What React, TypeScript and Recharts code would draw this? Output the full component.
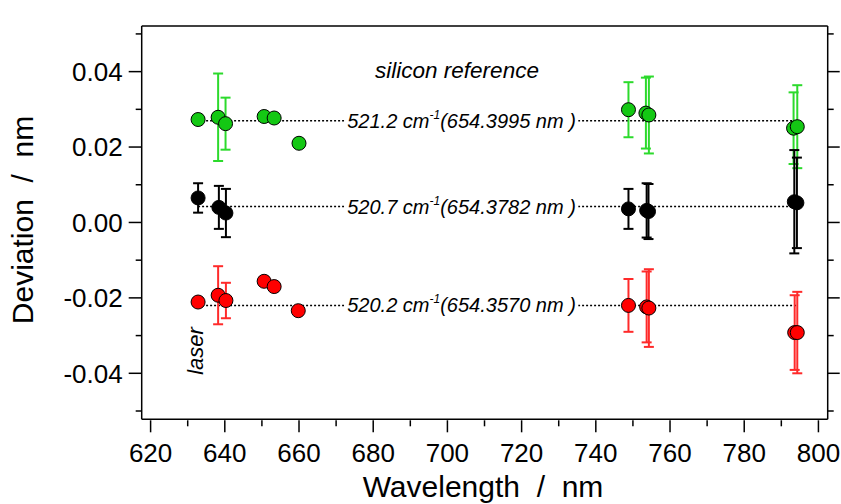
import React from 'react';
import { ScatterChart, Scatter, XAxis, YAxis, ErrorBar, ReferenceLine } from 'recharts';

// wavelength (nm), deviation (nm), error (nm) per series
const greenWl = [632.8, 638.2, 640.2, 650.6, 653.3, 660.0, 748.8, 753.5, 754.3, 793.3, 794.3];
const greenDev = [0.0273, 0.0279, 0.0262, 0.0281, 0.0277, 0.021, 0.0299, 0.029, 0.0285, 0.025, 0.0254];
const greenErr = [0.0012, 0.0116, 0.0069, 0, 0, 0, 0.0073, 0.0094, 0.0102, 0.0095, 0.011];

const blackWl = [632.8, 638.4, 640.3, 748.8, 753.7, 754.2, 793.5, 794.2];
const blackDev = [0.0065, 0.004, 0.0025, 0.0036, 0.0032, 0.0029, 0.0055, 0.0052];
const blackErr = [0.0039, 0.0057, 0.0064, 0.0053, 0.0072, 0.0073, 0.0137, 0.012];

const redWl = [632.8, 638.2, 640.3, 650.6, 653.3, 659.8, 748.8, 753.7, 754.3, 793.6, 794.3];
const redDev = [-0.0211, -0.0193, -0.0207, -0.0156, -0.017, -0.0234, -0.022, -0.0224, -0.0227, -0.0292, -0.0292];
const redErr = [0.001, 0.0077, 0.0047, 0, 0, 0, 0.007, 0.0094, 0.0103, 0.0099, 0.0108];

// silicon reference lines
const refDev = [0.027, 0.0042, -0.022];
const refCm = ['521.2', '520.7', '520.2'];
const refNm = ['654.3995', '654.3782', '654.3570'];
const refFrom = 632.8;
const refTo = 794;
const refLabelAt = 673;

const xTicks = [620, 630, 640, 650, 660, 670, 680, 690, 700, 710, 720, 730, 740, 750, 760, 770, 780, 790, 800];
const yTicks = [-0.05, -0.04, -0.03, -0.02, -0.01, 0, 0.01, 0.02, 0.03, 0.04, 0.05];

const xDomain = [617.6, 802.5];
const yDomain = [-0.0522, 0.0521];

const FONT = '"Liberation Sans", Arial, sans-serif';

const toPoints = (wl: number[], dev: number[], err: number[]) =>
  wl.map((w, i) => ({ x: w, y: dev[i], err: err[i] }));

const greenData = toPoints(greenWl, greenDev, greenErr);
const blackData = toPoints(blackWl, blackDev, blackErr);
const redData = toPoints(redWl, redDev, redErr);

const majorX = (v: number) => Math.round(v) % 20 === 0;
const majorY = (v: number) => Math.round(v * 100) % 2 === 0;

const BottomTick = ({ x, y, payload }: any) => {
  const major = majorX(payload.value);
  return (
    <g>
      <line x1={x} y1={y + 1} x2={x} y2={y + 1 + (major ? 12 : 6)} stroke="#000" strokeWidth={1.5} />
      {major && (
        <text x={x} y={y + 42.5} textAnchor="middle" fontSize={26} fontFamily={FONT} fill="#000">
          {payload.value}
        </text>
      )}
    </g>
  );
};

const TopTick = ({ x, y, payload }: any) => (
  <line x1={x} y1={y} x2={x} y2={y - (majorX(payload.value) ? 12 : 6)} stroke="#000" strokeWidth={1.5} />
);

const LeftTick = ({ x, y, payload }: any) => {
  const major = majorY(payload.value);
  return (
    <g>
      <line x1={x} y1={y} x2={x - (major ? 13 : 6)} y2={y} stroke="#000" strokeWidth={1.5} />
      {major && (
        <text x={x - 19} y={y + 9.3} textAnchor="end" fontSize={26} fontFamily={FONT} fill="#000">
          {payload.value.toFixed(2)}
        </text>
      )}
    </g>
  );
};

const RightTick = ({ x, y, payload }: any) => (
  <line x1={x} y1={y} x2={x + (majorY(payload.value) ? 12 : 6)} y2={y} stroke="#000" strokeWidth={1.5} />
);

const dot = (fill: string) => (p: any) => (
  <circle cx={p.cx} cy={p.cy} r={7} fill={fill} stroke="#000" strokeWidth={1} />
);

const refLabel = (i: number) => (props: any) => {
  const vb = props.viewBox;
  const px = vb.x + ((refLabelAt - refFrom) / (refTo - refFrom)) * vb.width;
  const cy = vb.y + (vb.height || 0) / 2;
  return (
    <g>
      <rect x={px - 3} y={cy - 12} width={234} height={24} fill="#fff" />
      <text x={px} y={cy + 7} fontSize={20} fontStyle="italic" fontFamily={FONT} fill="#000">
        <tspan>{refCm[i]} cm</tspan>
        <tspan dy={-9} fontSize={12}>-1</tspan>
        <tspan dy={9}>({refNm[i]} nm )</tspan>
      </text>
    </g>
  );
};

export default function App() {
  const axisLine = { stroke: '#000', strokeWidth: 1.5 };
  return (
    <div style={{ position: 'absolute', left: 0, top: 0, width: 841, height: 504, background: '#fff' }}>
      <ScatterChart width={841} height={504} margin={{ top: 6, right: 0, bottom: 44.7, left: 81.7 }}>
        <XAxis
          type="number"
          dataKey="x"
          domain={xDomain}
          allowDataOverflow
          ticks={xTicks}
          interval={0}
          tickSize={0}
          tickMargin={0}
          tickLine={false}
          axisLine={axisLine}
          tick={<BottomTick />}
          height={40}
        />
        <XAxis
          xAxisId="top"
          orientation="top"
          type="number"
          domain={xDomain}
          allowDataOverflow
          ticks={xTicks}
          interval={0}
          tickSize={0}
          tickMargin={0}
          tickLine={false}
          axisLine={axisLine}
          tick={<TopTick />}
          height={20}
        />
        <YAxis
          type="number"
          dataKey="y"
          domain={yDomain}
          allowDataOverflow
          ticks={yTicks}
          interval={0}
          tickSize={0}
          tickMargin={0}
          tickLine={false}
          axisLine={axisLine}
          tick={<LeftTick />}
          width={60}
        />
        <YAxis
          yAxisId="right"
          orientation="right"
          type="number"
          domain={yDomain}
          allowDataOverflow
          ticks={yTicks}
          interval={0}
          tickSize={0}
          tickMargin={0}
          tickLine={false}
          axisLine={axisLine}
          tick={<RightTick />}
          width={13.3}
        />
        {refDev.map((v, i) => (
          <ReferenceLine
            key={i}
            segment={[{ x: refFrom, y: v }, { x: refTo, y: v }]}
            stroke="#000"
            strokeWidth={1.5}
            strokeDasharray="2 2"
            label={refLabel(i)}
          />
        ))}
        <Scatter data={greenData} isAnimationActive={false} shape={dot('#14C814')}>
          <ErrorBar dataKey="err" direction="y" width={5} stroke="#2CDA2C" strokeWidth={2} isAnimationActive={false} />
        </Scatter>
        <Scatter data={blackData} isAnimationActive={false} shape={dot('#000')}>
          <ErrorBar dataKey="err" direction="y" width={5} stroke="#000" strokeWidth={2} isAnimationActive={false} />
        </Scatter>
        <Scatter data={redData} isAnimationActive={false} shape={dot('#FF0000')}>
          <ErrorBar dataKey="err" direction="y" width={5} stroke="#FF2A2A" strokeWidth={2} isAnimationActive={false} />
        </Scatter>
      </ScatterChart>
      <svg width={841} height={504} style={{ position: 'absolute', left: 0, top: 0, pointerEvents: 'none' }}>
        <text x={457} y={78} textAnchor="middle" fontSize={22.5} fontStyle="italic" fontFamily={FONT} fill="#000">
          silicon reference
        </text>
        <text transform="translate(203,351) rotate(-90)" textAnchor="middle" fontSize={22} fontStyle="italic" fontFamily={FONT} fill="#000">
          laser
        </text>
        <text transform="translate(33,220) rotate(-90)" textAnchor="middle" fontSize={30} fontFamily={FONT} fill="#000" style={{ whiteSpace: 'pre' }}>
          {'Deviation  /  nm'}
        </text>
        <text x={483} y={497} textAnchor="middle" fontSize={30} fontFamily={FONT} fill="#000" style={{ whiteSpace: 'pre' }}>
          {'Wavelength  /  nm'}
        </text>
      </svg>
    </div>
  );
}
